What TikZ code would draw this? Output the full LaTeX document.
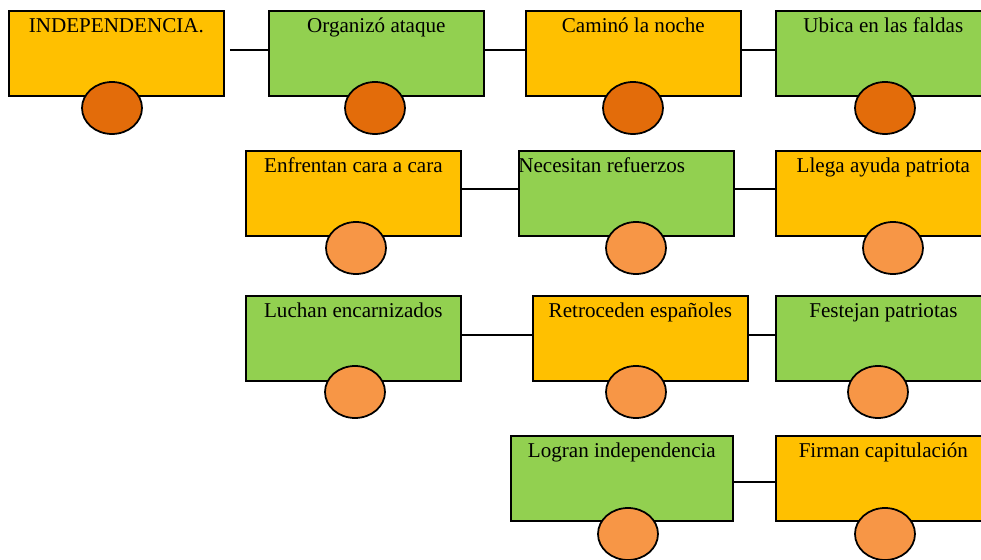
\documentclass[tikz,border=0pt]{standalone}
\usepackage{fontspec}
\setmainfont{Liberation Serif}
\usetikzlibrary{positioning,calc,shapes.geometric}
\definecolor{amber}{HTML}{FFC000}
\definecolor{leaf}{HTML}{92D050}
\definecolor{rust}{HTML}{E36C0A}
\definecolor{peach}{HTML}{F79646}
\tikzset{
  card/.style={draw, line width=1pt, minimum width=4.3cm, minimum height=1.7cm,
    anchor=north west, inner sep=0pt},
  wheel/.style={draw, ellipse, line width=1pt, minimum width=1.2cm,
    minimum height=1.04cm, inner sep=0pt},
  caption/.style={anchor=base, inner sep=0pt, font=\fontsize{12}{14}\selectfont},
  link/.style={line width=1pt},
}

\begin{document}
\begin{tikzpicture}[x=0.02cm, y=-0.02cm]
    \useasboundingbox (0,0) rectangle (981,560);
    \clip (0,0) rectangle (981,560);
    \def\dy{-0.46cm} % baseline below top edge

    % row 1
    \node[card, fill=amber] (indep) at (8,10) {};
    \node[card, fill=leaf] (organizo) at (268,10) {};
    \node[card, fill=amber] (camino) at (525,10) {};
    \node[card, fill=leaf] (ubica) at (775,10) {};

    \node[caption] at ([yshift=\dy]indep.north) {INDEPENDENCIA.};
    \node[caption] at ([yshift=\dy]organizo.north) {Organizó ataque};
    \node[caption] at ([yshift=\dy]camino.north) {Caminó la noche};
    \node[caption] at ([yshift=\dy]ubica.north) {Ubica en las faldas};

    \node[wheel, fill=rust] (w-indep) at (112,108) {};
    \node[wheel, fill=rust] (w-organizo) at (375,108) {};
    \node[wheel, fill=rust] (w-camino) at (633,108) {};
    \node[wheel, fill=rust] (w-ubica) at (885,108) {};

    \draw[link, shorten <=3pt] ([yshift=0.07cm]indep.east) -- ([yshift=0.07cm]organizo.west);
    \draw[link] ([yshift=0.07cm]organizo.east) -- ([yshift=0.07cm]camino.west);
    \draw[link] ([yshift=0.07cm]camino.east) -- ([yshift=0.07cm]ubica.west);

    % row 2
    \node[card, fill=amber] (enfrentan) at (245,150) {};
    \node[card, fill=leaf] (necesitan) at (518,150) {};
    \node[card, fill=amber] (llega) at (775,150) {};

    \node[caption] at ([yshift=\dy]enfrentan.north) {Enfrentan cara a cara};
    \node[caption, anchor=base west] at ([yshift=\dy]necesitan.north west) {Necesitan refuerzos};
    \node[caption] at ([yshift=\dy]llega.north) {Llega ayuda patriota};

    \node[wheel, fill=peach] (w-enfrentan) at (356,248) {};
    \node[wheel, fill=peach] (w-necesitan) at (636,248) {};
    \node[wheel, fill=peach] (w-llega) at (893,248) {};

    \draw[link] ([yshift=0.09cm]enfrentan.east) -- ([yshift=0.09cm]necesitan.west);
    \draw[link] ([yshift=0.09cm]necesitan.east) -- ([yshift=0.09cm]llega.west);

    % row 3
    \node[card, fill=leaf] (luchan) at (245,295) {};
    \node[card, fill=amber] (retroceden) at (532,295) {};
    \node[card, fill=leaf] (festejan) at (775,295) {};

    \node[caption] at ([yshift=\dy]luchan.north) {Luchan encarnizados};
    \node[caption] at ([yshift=\dy]retroceden.north) {Retroceden españoles};
    \node[caption] at ([yshift=\dy]festejan.north) {Festejan patriotas};

    \node[wheel, fill=peach] (w-luchan) at (355,392) {};
    \node[wheel, fill=peach] (w-retroceden) at (636,392) {};
    \node[wheel, fill=peach] (w-festejan) at (878,392) {};

    \draw[link] ([yshift=0.07cm]luchan.east) -- ([yshift=0.07cm]retroceden.west);
    \draw[link] ([yshift=0.07cm]retroceden.east) -- ([yshift=0.07cm]festejan.west);

    % row 4
    \node[card, fill=leaf, minimum width=4.44cm] (logran) at (510,435) {};
    \node[card, fill=amber] (firman) at (775,435) {};

    \node[caption] at ([yshift=\dy]logran.north) {Logran independencia};
    \node[caption] at ([yshift=\dy]firman.north) {Firman capitulación};

    \node[wheel, fill=peach] (w-logran) at (628,534) {};
    \node[wheel, fill=peach] (w-firman) at (885,534) {};

    \draw[link] ([yshift=-0.07cm]logran.east) -- ([yshift=-0.07cm]firman.west);
\end{tikzpicture}
\end{document}
